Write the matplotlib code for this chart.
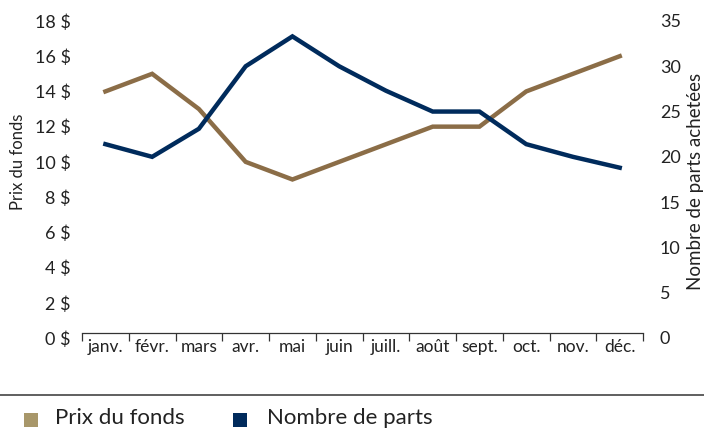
import numpy as np
import matplotlib.pyplot as plt
from matplotlib.lines import Line2D
from matplotlib.patches import Rectangle

plt.rcParams['font.family'] = ['Lato', 'DejaVu Sans']

months = ['janv.', 'févr.', 'mars', 'avr.', 'mai', 'juin',
          'juill.', 'août', 'sept.', 'oct.', 'nov.', 'déc.']
prix = [14, 15, 13, 10, 9, 10, 11, 12, 12, 14, 15, 16]
parts = [21.4, 20, 23.1, 30, 33.3, 30, 27.3, 25, 25, 21.4, 20, 18.8]

brown = '#8b6d47'
brown_leg = '#a8976a'
navy = '#002b5c'
txt = '#222222'

W, H = 704, 430
fig = plt.figure(figsize=(W / 100, H / 100), dpi=100)
ax = fig.add_axes([0.1165, 0.2140, 0.797, 0.7372])
ax2 = ax.twinx()

x = np.arange(len(months))
ax.plot(x, prix, color=brown, lw=3.2, solid_joinstyle='miter')
ax2.plot(x, parts, color=navy, lw=3.2, solid_joinstyle='miter')

ax.set_xlim(-0.5, 11.5)
ax.set_ylim(0, 18)
ax2.set_ylim(0, 35)

ax.set_yticks(range(0, 19, 2))
ax.set_yticklabels([f'{v} $' for v in range(0, 19, 2)])
ax2.set_yticks(range(0, 36, 5))

ax.set_xticks(x)
ax.set_xticklabels(months)
ax.set_xticks(np.arange(-0.5, 12, 1), minor=True)
ax.tick_params(axis='x', which='major', length=0, pad=4, labelsize=12.5, colors=txt)
ax.tick_params(axis='x', which='minor', length=6, width=0.9, direction='out', color='#333333')
ax.tick_params(axis='y', length=0, pad=8, labelsize=13, colors=txt)
ax2.tick_params(axis='y', length=0, pad=12, labelsize=13, colors=txt)

for a in (ax, ax2):
    for s in ('left', 'right', 'top'):
        a.spines[s].set_visible(False)
ax2.spines['bottom'].set_visible(False)
# axis line sits a little above the zero level, as in the reference
ax.spines['bottom'].set_position(('data', 0.28))
ax.spines['bottom'].set_color('#333333')
ax.spines['bottom'].set_linewidth(0.9)

# axis titles
fig.text(18 / W, 1 - 162 / H, 'Prix du fonds', fontsize=12, color=txt,
         rotation=90, ha='center', va='center')
fig.text(695 / W, 1 - 181 / H, 'Nombre de parts achetées', fontsize=13.5, color=txt,
         rotation=90, ha='center', va='center')

# separator and legend
fig.add_artist(Line2D([0, 1], [1 - 395 / H] * 2, transform=fig.transFigure,
                      color='#444444', lw=1.2))
fig.add_artist(Rectangle((24 / W, 1 - 427 / H), 14 / W, 14 / H,
                         transform=fig.transFigure, color=brown_leg, lw=0))
fig.text(55 / W, 1 - 418 / H, 'Prix du fonds', fontsize=16, color=txt, va='center')
fig.add_artist(Rectangle((233 / W, 1 - 427 / H), 14 / W, 14 / H,
                         transform=fig.transFigure, color=navy, lw=0))
fig.text(267 / W, 1 - 418 / H, 'Nombre de parts', fontsize=16, color=txt, va='center')

fig.savefig('out.png', dpi=100)
